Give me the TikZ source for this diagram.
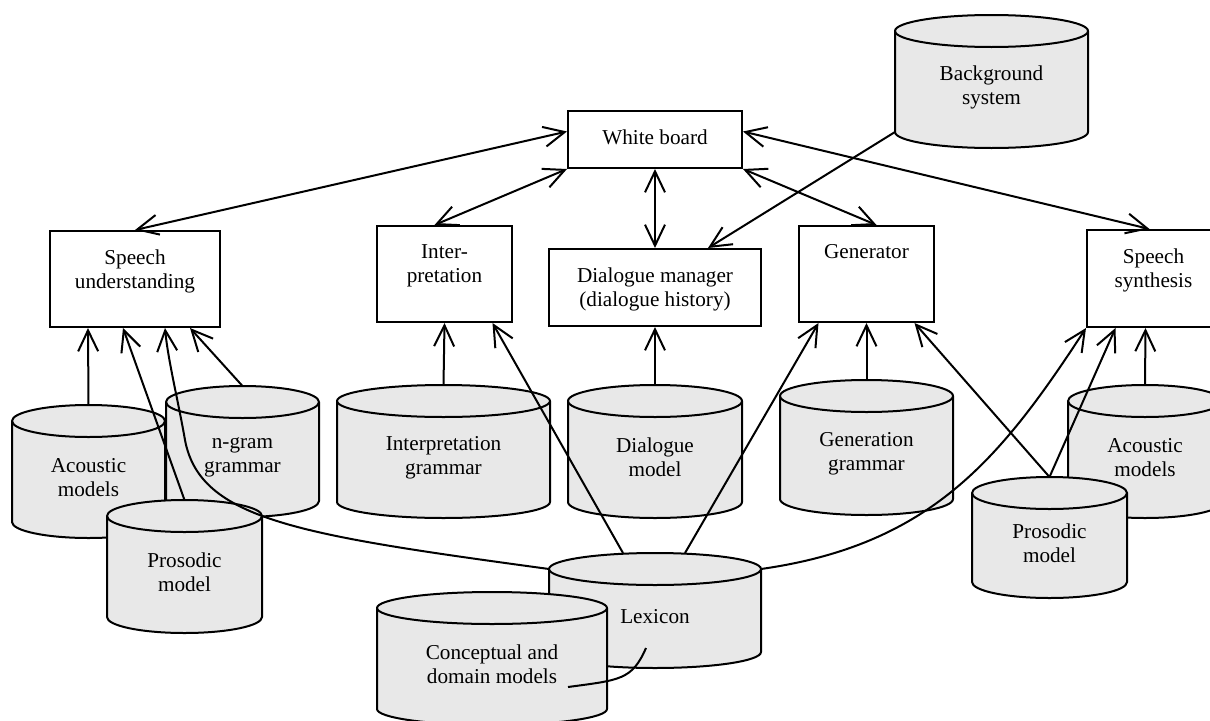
\documentclass[tikz,border=0pt]{standalone}
\usepackage{fontspec}
\setmainfont{Liberation Serif}
\usetikzlibrary{arrows.meta,calc}

\tikzset{
  unit/.style={draw, fill=white, inner sep=0pt, label={[unitlabel]north:{#1}}},
  unitlabel/.style={anchor=north, align=center, inner sep=0pt, yshift=-9.2pt},
  store/.style={inner sep=0pt, outer sep=0pt},
  storeface/.style={draw, fill=gray!18},
  storelabel/.style={align=center, inner sep=0pt, yshift=-3pt},
  flow/.style={-{Straight Barb[length=10.5pt,width=10pt]}},
  twoway/.style={{Straight Barb[length=10.5pt,width=10pt]}-{Straight Barb[length=10.5pt,width=10pt]}},
}

% #1 name, #2 x, #3 y, #4 half width, #5 half height, #6 text
\newcommand{\store}[6]{%
  \path[storeface] (#2-#4,#3+#5-16) -- (#2-#4,#3-#5+16)
    arc[start angle=180,end angle=360,x radius=#4,y radius=16]
    -- (#2+#4,#3+#5-16)
    arc[start angle=0,end angle=180,x radius=#4,y radius=16] -- cycle;
  \draw (#2-#4,#3+#5-16) arc[start angle=180,end angle=360,x radius=#4,y radius=16];
  \node[store, minimum width=#4pt, minimum height=#5pt, label={[storelabel]center:{#6}}] (#1) at (#2,#3) {};
}

\begin{document}
\begin{tikzpicture}[x=0.5pt, y=0.5pt, line width=1pt, font=\fontsize{10.6}{12.2}\selectfont]
  \useasboundingbox (0,0) rectangle (1210,720);

  % data stores
  \store{bg}{991.5}{638.5}{96.5}{66.5}{Background\\system}
  \store{ngr}{242.5}{268.5}{76.5}{65.5}{n-gram\\grammar}
  \store{acl}{88.5}{248.5}{76.5}{66.5}{Acoustic\\models}
  \store{prl}{184.5}{153.5}{77.5}{66.5}{Prosodic\\model}
  \store{igr}{443.5}{268.5}{106.5}{66.5}{Interpretation\\grammar}
  \store{dmo}{655}{268.5}{87}{66.5}{Dialogue\\model}
  \store{ggr}{866.5}{272.5}{86.5}{67.5}{Generation\\grammar}
  \store{acr}{1145}{268.5}{77}{66.5}{Acoustic\\models}
  \store{prr}{1049.5}{182.5}{77.5}{60.5}{Prosodic\\model}
  \store{lex}{655}{109.5}{106}{57.5}{Lexicon}
  \store{cdm}{492}{61.5}{115}{66.5}{Conceptual and\\domain models}

  % modules
  \node[unit={White board}, minimum width=87pt, minimum height=28.5pt] (wb) at (655,580.5) {};
  \node[unit={Speech\\understanding}, minimum width=85pt, minimum height=48pt] (su) at (135,441) {};
  \node[unit={Inter-\\pretation}, minimum width=67.5pt, minimum height=48pt] (ip) at (444.5,446) {};
  \node[unit={Dialogue manager\\(dialogue history)}, minimum width=106pt, minimum height=38.5pt] (dm) at (655,432.5) {};
  \node[unit={Generator}, minimum width=67.5pt, minimum height=48pt] (gen) at (866.5,446) {};
  \node[unit={Speech\\synthesis}, minimum width=66.5pt, minimum height=48.5pt] (ss) at (1153.5,441.5) {};

  % white board links
  \draw[twoway] ([yshift=4pt]wb.west) -- (su.north);
  \draw[twoway] (wb.south west) -- ([xshift=-5pt]ip.north);
  \draw[twoway] (wb.south) -- (dm.north);
  \draw[twoway] (wb.south east) -- ([xshift=5pt]gen.north);
  \draw[twoway] ([yshift=4pt]wb.east) -- ([xshift=-2pt]ss.north);
  \draw[flow] ([yshift=8pt]bg.south west) -- ([xshift=26.5pt]dm.north);

  % knowledge sources
  \draw[flow] (acl.north) -- ([xshift=-23.5pt]su.south);
  \draw[flow] (prl.north) -- ([xshift=-6pt]su.south);
  \draw[flow] ([yshift=-8pt]lex.north west) .. controls (300,185) and (200,200) .. (185,280)
    .. controls (178,320) and (168,360) .. ([xshift=15pt]su.south);
  \draw[flow] (ngr.north) -- ([xshift=27.5pt]su.south);
  \draw[flow] (igr.north) -- (ip.south);
  \draw[flow] ([xshift=-16pt]lex.north) -- ([xshift=24pt]ip.south);
  \draw[flow] (dmo.north) -- (dm.south);
  \draw[flow] ([xshift=15pt]lex.north) -- ([xshift=-24pt]gen.south);
  \draw[flow] (ggr.north) -- (gen.south);
  \draw[flow] (prr.north) -- ([xshift=24pt]gen.south);
  \draw[flow] ([yshift=-8pt]lex.north east) .. controls (930,175) and (1000,260) .. (ss.south west);
  \draw[flow] (prr.north) -- ([xshift=-19pt]ss.south);
  \draw[flow] (acr.north) -- ([xshift=-4pt]ss.south);
  \draw ([shift={(-4.5pt,-18.75pt)}]lex.center) .. controls (632,40) and (620,40) .. ([shift={(38pt,-14.25pt)}]cdm.center);
\end{tikzpicture}
\end{document}
